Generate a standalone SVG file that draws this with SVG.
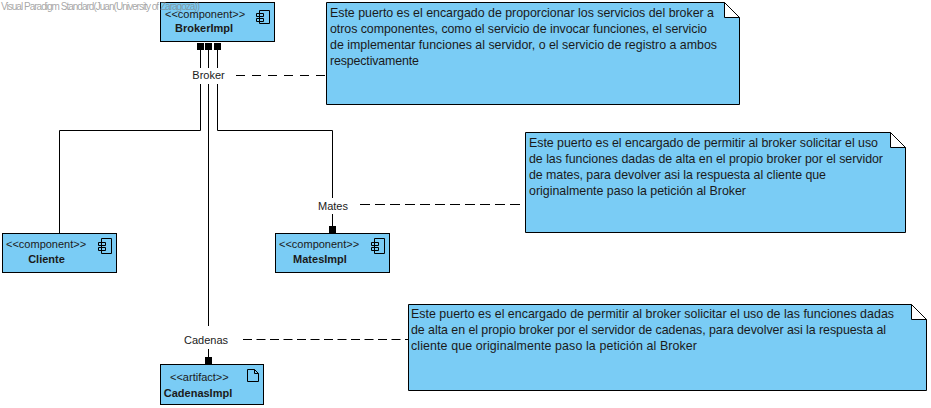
<svg xmlns="http://www.w3.org/2000/svg" width="931" height="408" viewBox="0 0 931 408">
<style>
text{font-family:"Liberation Sans",Arial,sans-serif;font-size:12px;fill:#1a1a1a}
.box{fill:#7accf5;stroke:#000;stroke-width:1}
.b{font-weight:bold;font-size:11px;text-anchor:middle}
.s{font-size:11px}
.ic{fill:none;stroke:#000;stroke-width:1}
.c{fill:none;stroke:#000;stroke-width:1}
.d{fill:none;stroke:#000;stroke-width:1;stroke-dasharray:10 5}
.p{fill:#000}
.l{text-anchor:middle;font-size:11px}
.lb{fill:#fff}
.n{font-size:12.4px}
.fold{fill:#fff;stroke:#000;stroke-width:1}
.wm{font-size:10px;fill:#808080;fill-opacity:.7}
</style>
<rect width="931" height="408" fill="#fff"/>
<g id="connectors">
<path class="c" d="M200.500 50V130.500H59.500V233"/>
<path class="c" d="M208.500 50V326"/>
<path class="c" d="M208.500 349V364"/>
<path class="c" d="M217.500 50V130.500H332.500V198"/>
<path class="c" d="M332.500 214V233"/>
<path class="d" style="stroke-dasharray:9 7" d="M236 75.500H327"/>
<path class="d" d="M360 204.500H526"/>
<path class="d" style="stroke-dasharray:9 4.500" d="M243 339.500H409"/>
</g>
<g id="BrokerImpl">
<rect class="box" x="160.500" y="2.500" width="114" height="39"/>
<text class="s" x="165" y="18">&lt;&lt;component&gt;&gt;</text>
<text class="b" x="204" y="32">BrokerImpl</text>
<path class="ic" d="M259.500 10.500H269.500V23.500H259.500ZM256.500 13.500H263.500V16.500H256.500ZM256.500 18.500H263.500V21.500H256.500Z"/>
<rect class="p" x="197" y="43" width="7" height="7"/>
<rect class="p" x="205" y="43" width="7" height="7"/>
<rect class="p" x="214" y="43" width="7" height="7"/>
</g>
<g id="Broker"><rect class="lb" x="190" y="68" width="37" height="16"/><text class="l" x="208.500" y="79">Broker</text></g>
<g id="Cliente">
<rect class="box" x="2.500" y="233.500" width="114" height="39"/>
<text class="s" x="6" y="248">&lt;&lt;component&gt;&gt;</text>
<text class="b" x="46.500" y="263">Cliente</text>
<path class="ic" d="M101.500 238.500H111.500V253.500H101.500ZM98.500 242.500H105.500V245.500H98.500ZM98.500 247.500H105.500V250.500H98.500Z"/>
</g>
<g id="Mates"><rect class="lb" x="315" y="198" width="36" height="16"/><text class="l" x="333" y="210">Mates</text></g>
<g id="MatesImpl">
<rect class="box" x="275.500" y="233.500" width="114" height="39"/>
<rect class="p" x="329" y="226" width="7" height="7"/>
<text class="s" x="279" y="248">&lt;&lt;component&gt;&gt;</text>
<text class="b" x="320" y="263">MatesImpl</text>
<path class="ic" d="M374.500 238.500H384.500V253.500H374.500ZM371.500 242.500H378.500V245.500H371.500ZM371.500 247.500H378.500V250.500H371.500Z"/>
</g>
<g id="Cadenas"><rect class="lb" x="182" y="332" width="48" height="16"/><text class="l" x="206" y="344">Cadenas</text></g>
<g id="CadenasImpl">
<rect class="box" x="160.500" y="364.500" width="103" height="40"/>
<rect class="p" x="205" y="357" width="7" height="7"/>
<text class="s" x="170" y="381">&lt;&lt;artifact&gt;&gt;</text>
<text class="b" x="198" y="397">CadenasImpl</text>
<path class="ic" d="M247.500 369.500H254.500L258.500 373.500V381.500H247.500ZM254.500 369.500V373.500H258.500"/>
</g>
<g id="note1">
<path class="box" d="M326.500 2.500H724.500L739.500 17.500V104.500H326.500Z"/>
<path class="fold" d="M724.500 2.500L739.500 17.500H724.500Z"/>
<text class="n" x="330" y="17" textLength="384">Este puerto es el encargado de proporcionar los servicios del broker a</text>
<text class="n" x="330" y="33" textLength="377">otros componentes, como el servicio de invocar funciones, el servicio</text>
<text class="n" x="330" y="49" textLength="387">de implementar funciones al servidor, o el servicio de registro a ambos</text>
<text class="n" x="330" y="65" textLength="89">respectivamente</text>
</g>
<g id="note2">
<path class="box" d="M525.500 132.500H890.500L905.500 147.500V232.500H525.500Z"/>
<path class="fold" d="M890.500 132.500L905.500 147.500H890.500Z"/>
<text class="n" x="529" y="147" textLength="349">Este puerto es el encargado de permitir al broker solicitar el uso</text>
<text class="n" x="529" y="163" textLength="354">de las funciones dadas de alta en el propio broker por el servidor</text>
<text class="n" x="529" y="179" textLength="297">de mates, para devolver asi la respuesta al cliente que</text>
<text class="n" x="529" y="195" textLength="217">originalmente paso la petición al Broker</text>
</g>
<g id="note3">
<path class="box" d="M408.500 304.500H911.500L926.500 319.500V390.500H408.500Z"/>
<path class="fold" d="M911.500 304.500L926.500 319.500H911.500Z"/>
<text class="n" x="411" y="318" textLength="483">Este puerto es el encargado de permitir al broker solicitar el uso de las funciones dadas</text>
<text class="n" x="411" y="334" textLength="475">de alta en el propio broker por el servidor de cadenas, para devolver asi la respuesta al</text>
<text class="n" x="411" y="350" textLength="286">cliente que originalmente paso la petición al Broker</text>
</g>
<text class="wm" x="1" y="10" textLength="199">Visual Paradigm Standard(Juan(University of Zaragoza))</text>
</svg>
